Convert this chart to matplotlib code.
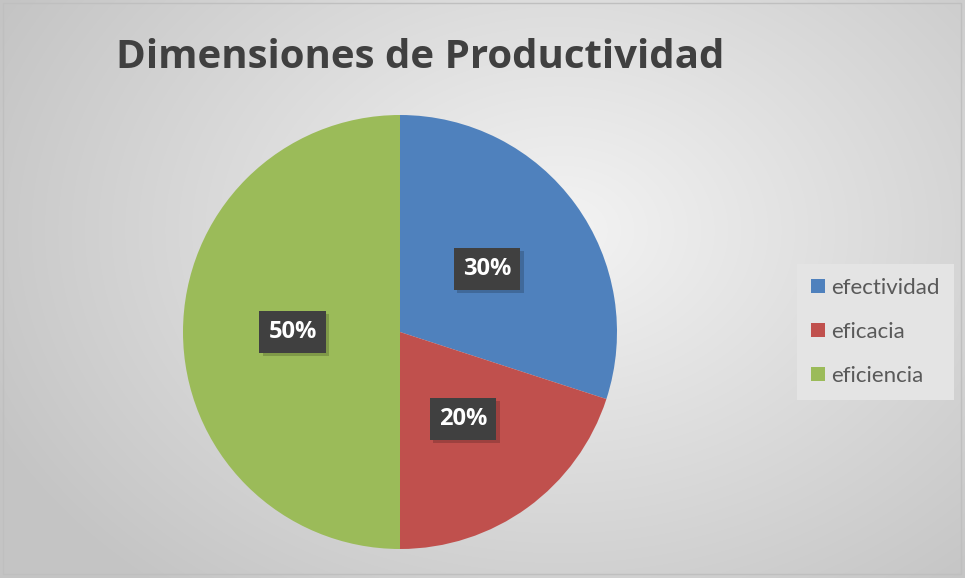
import numpy as np
import matplotlib
matplotlib.use("Agg")
import matplotlib.pyplot as plt
from matplotlib.patches import Rectangle
import matplotlib.patheffects as pe

categories = ["efectividad", "eficacia", "eficiencia"]
values = [30, 20, 50]
colors = ["#4f81bd", "#c0504d", "#9bbb59"]
title = "Dimensiones de Productividad"

W, H = 965, 578
fig = plt.figure(figsize=(W / 100, H / 100), dpi=100)

# background radial gradient
bg = fig.add_axes([0, 0, 1, 1])
yy, xx = np.mgrid[0:H, 0:W]
d = np.sqrt(((xx - 560) / 580.0) ** 2 + ((yy - 230) / 430.0) ** 2)
val = np.clip(0.955 - 0.17 * d, 0.77, 0.96)
img = np.dstack([val, val, val])
bg.imshow(img, extent=[0, W, H, 0], aspect="auto", interpolation="bilinear")
bg.set_xlim(0, W)
bg.set_ylim(H, 0)
bg.axis("off")
bg.add_patch(Rectangle((3, 3), W - 7, H - 7, fill=False, edgecolor="#bfbfbf", lw=1))

# pie
cx, cy, r = 400, 332, 217
ax = fig.add_axes([(cx - r) / W, 1 - (cy + r) / H, 2 * r / W, 2 * r / H])
wedges, texts, autotexts = ax.pie(values, colors=colors, startangle=90, counterclock=False,
                                  autopct="%d%%", pctdistance=0.495,
                                  wedgeprops=dict(edgecolor="none"),
                                  textprops=dict(color="white", fontsize=17, fontweight="bold",
                                                 family=["Open Sans", "DejaVu Sans"]))
for t in autotexts:
    t.set_bbox(dict(boxstyle="square,pad=0.38", facecolor="#404040", edgecolor="none"))
    t.get_bbox_patch().set_path_effects([
        pe.SimplePatchShadow(offset=(2.5, -2.5), shadow_rgbFace="black", alpha=0.18), pe.Normal()])
ax.set_aspect("equal")
ax.set_xlim(-1, 1)
ax.set_ylim(-1, 1)

# title
fig.text(420 / W, 1 - 58 / H, title, ha="center", va="center", fontsize=29, fontweight="bold",
         color="#404040", family=["Open Sans", "DejaVu Sans"])

# legend
lg = fig.legend(wedges, categories, loc="upper left", bbox_to_anchor=(797 / W, 1 - 264 / H),
                frameon=True, labelcolor="#595959", handlelength=0.62, handleheight=0.62,
                labelspacing=1.08, borderpad=0.62, handletextpad=0.3, borderaxespad=0,
                prop=dict(family=["Lato", "DejaVu Sans"], size=16))
lg.get_frame().set_facecolor("#e4e4e4")
lg.get_frame().set_edgecolor("none")
lg.get_frame().set_alpha(1)
lg.get_frame().set_boxstyle("square", pad=0)

fig.savefig("out.png", dpi=100)
